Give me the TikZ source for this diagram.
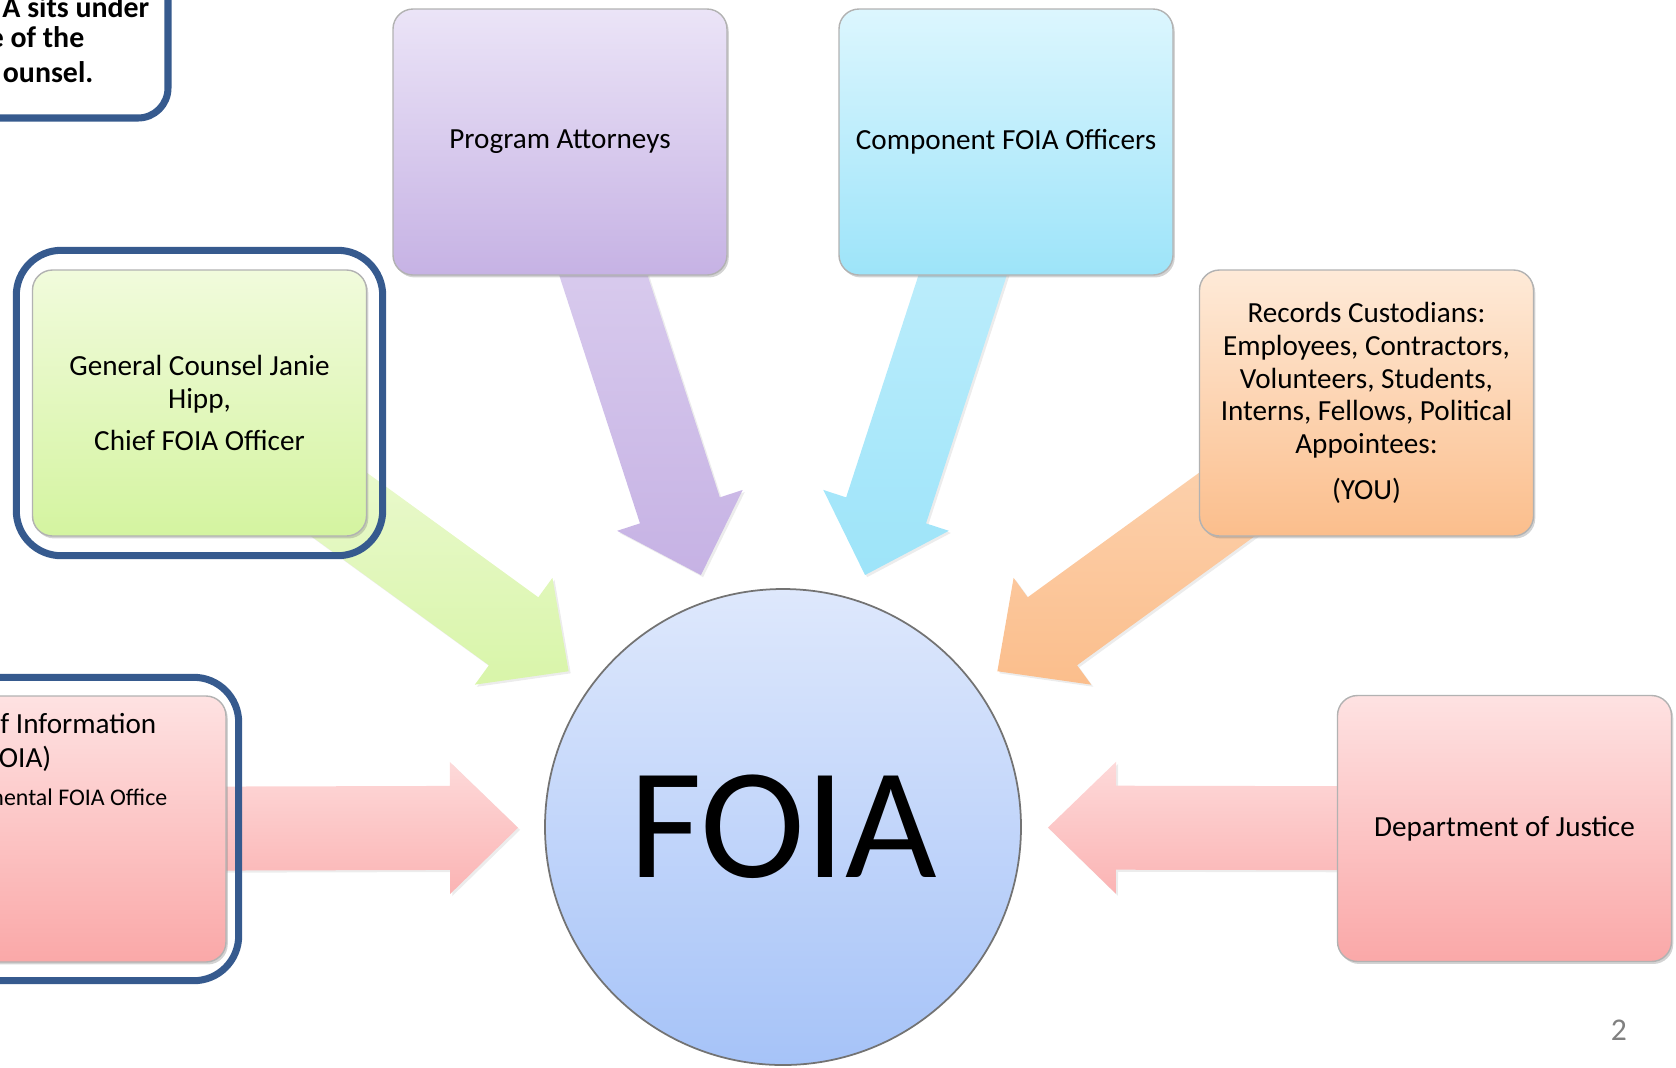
\documentclass[tikz,border=0pt]{standalone}
\usepackage{fontspec}
\setmainfont{Carlito}
\usetikzlibrary{calc,shadows,fit}

\definecolor{frameblue}{RGB}{54,90,142}
\definecolor{paTop}{RGB}{235,228,247}
\definecolor{paBot}{RGB}{198,178,228}
\definecolor{cfTop}{RGB}{220,246,254}
\definecolor{cfBot}{RGB}{157,228,249}
\definecolor{gcTop}{RGB}{241,251,220}
\definecolor{gcBot}{RGB}{212,244,160}
\definecolor{rcTop}{RGB}{254,234,216}
\definecolor{rcBot}{RGB}{251,190,140}
\definecolor{pkTop}{RGB}{254,226,226}
\definecolor{pkBot}{RGB}{250,168,168}
\definecolor{foTop}{RGB}{222,232,252}
\definecolor{foBot}{RGB}{166,195,248}

\newcommand{\boxfont}{\fontsize{8.3pt}{9.3pt}\selectfont}

\pgfdeclarelayer{back}
\pgfsetlayers{back,main}

% block arrow from a box towards the FOIA circle
\newcommand{\feed}[3]{%
  \coordinate (tip) at ($(foia.center)!2.65cm!(#1.center)$);
  \coordinate (neck) at ($(tip)!0.68cm!(#1.center)$);
  \path[top color=#2, bottom color=#3,
        drop shadow={opacity=0.15, shadow xshift=0.6pt, shadow yshift=-0.6pt}]
    ($(#1.center)!0.42cm!90:(tip)$) -- ($(neck)!0.42cm!90:(tip)$)
    -- ($(neck)!0.66cm!90:(tip)$) -- (tip)
    -- ($(neck)!0.66cm!-90:(tip)$) -- ($(neck)!0.42cm!-90:(tip)$)
    -- ($(#1.center)!0.42cm!-90:(tip)$) -- cycle;
}

\tikzset{
  card/.style={rectangle, rounded corners=0.2cm, minimum width=3.34cm,
    minimum height=2.66cm, inner sep=0pt, align=center, draw=black!30,
    line width=0.4pt, font=\boxfont,
    drop shadow={opacity=0.35, shadow xshift=0.5pt, shadow yshift=-0.7pt}},
  frame/.style={draw=frameblue, line width=2pt, rounded corners=0.45cm},
  cut/.style={inner sep=0pt, anchor=base east},
}

\begin{document}
\begin{tikzpicture}
\useasboundingbox (0,0) rectangle (16.76,-10.67);
\clip (0,0) rectangle (16.76,-10.67);

\node[circle, minimum size=4.76cm, inner sep=0pt, top color=foTop, bottom color=foBot,
  draw=black!55, line width=0.5pt, font=\fontsize{45pt}{50pt}\selectfont] (foia) at (7.83,-8.27) {FOIA};

\node[card, top color=paTop, bottom color=paBot] (pa) at (5.60,-1.42) {Program Attorneys};
\node[card, top color=cfTop, bottom color=cfBot] (cfo) at (10.06,-1.42) {Component FOIA Officers};
\node[card, top color=gcTop, bottom color=gcBot] (gc) at (1.995,-4.03)
  {General Counsel Janie\\ Hipp,\\[0.09cm] Chief FOIA Officer};
\node[card, top color=rcTop, bottom color=rcBot] (rc) at (13.665,-4.03)
  {Records Custodians:\\ Employees, Contractors,\\ Volunteers, Students,\\ Interns, Fellows, Political\\ Appointees:\\[0.13cm] (YOU)};
\node[card, top color=pkTop, bottom color=pkBot] (doj) at (15.045,-8.285) {Department of Justice};
\node[card, top color=pkTop, bottom color=pkBot] (lp) at (0.59,-8.29) {};

% arrows behind the boxes
\begin{pgfonlayer}{back}
\feed{pa}{paTop!70!paBot}{paBot}
\feed{cfo}{cfTop!70!cfBot}{cfBot}
\feed{gc}{gcTop}{gcBot!85!gcTop}
\feed{rc}{rcTop!60!rcBot}{rcBot}
\feed{lp}{pkTop!85!pkBot}{pkBot!80!pkTop}
\feed{doj}{pkTop!85!pkBot}{pkBot!80!pkTop}
\end{pgfonlayer}

% dark frames
\node[frame, fit=(gc), inner xsep=0.155cm, inner ysep=0.19cm] (gcframe) {};
\node[frame, fit=(lp), inner xsep=0.12cm, inner ysep=0.18cm] (lpframe) {};
\draw[frame, rounded corners=0.3cm] (-1,1) rectangle (1.68,-1.18);

% cut-off texts at the left edge
\node[cut, font=\bfseries\fontsize{8.5pt}{10pt}\selectfont] (co1) at (1.50,-0.17) {A sits under};
\node[cut, font=\bfseries\fontsize{8.5pt}{10pt}\selectfont] (co2) at (0.85,-0.47) {e of the};
\node[cut, font=\bfseries\fontsize{8.5pt}{10pt}\selectfont] (co3) at (0.94,-0.82) {ounsel.};

\node[cut, font=\fontsize{8.3pt}{9pt}\selectfont] (lp1) at (1.57,-7.33) {f Information};
\node[cut, font=\fontsize{8.3pt}{9pt}\selectfont] (lp2) at (0.52,-7.67) {OIA)};
\node[cut, font=\fontsize{6.8pt}{8pt}\selectfont] (lp3) at (1.68,-8.05) {nental FOIA Office};

\node[text=black!50, font=\fontsize{9pt}{10pt}\selectfont] (pg) at (16.19,-10.30) {2};
\end{tikzpicture}
\end{document}
